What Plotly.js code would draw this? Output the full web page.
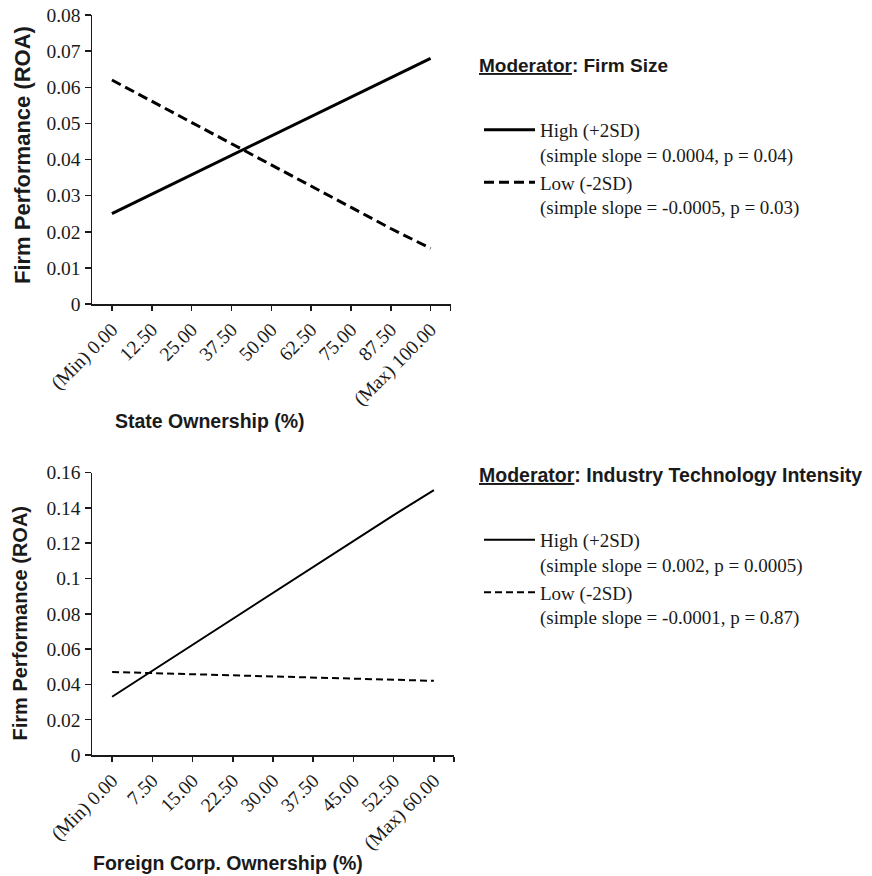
<!DOCTYPE html>
<html>
<head>
<meta charset="utf-8">
<script src="https://cdn.plot.ly/plotly-3.0.1.min.js"></script>
<style>html,body{margin:0;padding:0;background:#fff;}#chart{width:872px;height:876px;}</style>
</head>
<body>
<div id="chart"></div>
<script>
// Panel 1: State ownership, moderator firm size
const catsState = ['(Min) 0.00', '12.50', '25.00', '37.50', '50.00', '62.50', '75.00', '87.50', '(Max) 100.00'];
const stateHigh = [0.025, 0.0304, 0.0358, 0.0411, 0.0465, 0.0519, 0.0573, 0.0626, 0.068];
const stateLow = [0.062, 0.0561, 0.0503, 0.0444, 0.0385, 0.0326, 0.0268, 0.0209, 0.0154];
const stateHighName = 'High (+2SD)<br>(simple slope = 0.0004, p = 0.04)';
const stateLowName = 'Low (-2SD)<br>(simple slope = -0.0005, p = 0.03)';

// Panel 2: Foreign corp. ownership, moderator industry technology intensity
const catsForeign = ['(Min) 0.00', '7.50', '15.00', '22.50', '30.00', '37.50', '45.00', '52.50', '(Max) 60.00'];
const foreignHigh = [0.033, 0.0477, 0.0624, 0.0771, 0.0918, 0.1065, 0.1212, 0.1359, 0.150];
const foreignLow = [0.047, 0.0464, 0.0458, 0.0451, 0.0445, 0.0439, 0.0433, 0.0426, 0.042];
const foreignHighName = 'High (+2SD)<br>(simple slope = 0.002, p = 0.0005)';
const foreignLowName = 'Low (-2SD)<br>(simple slope = -0.0001, p = 0.87)';

const yTitle = 'Firm Performance (ROA)';
const xTitleState = 'State Ownership (%)';
const xTitleForeign = 'Foreign Corp. Ownership (%)';
const modState = '<b><u>Moderator</u>: Firm Size</b>';
const modForeign = '<b><u>Moderator</u>: Industry Technology Intensity</b>';

const serif = 'Liberation Serif, Times New Roman, serif';
const sans = 'Liberation Sans, Arial, sans-serif';
const ink = '#1a1a1a';

const idxS = catsState.map((_, i) => i);
const idxF = catsForeign.map((_, i) => i);

const traces = [
  {x: idxS, y: stateHigh, name: stateHighName, type: 'scatter', mode: 'lines',
   line: {color: '#000', width: 3}, xaxis: 'x', yaxis: 'y', legend: 'legend'},
  {x: idxS, y: stateLow, name: stateLowName, type: 'scatter', mode: 'lines',
   line: {color: '#000', width: 3, dash: '10px,5px'}, xaxis: 'x', yaxis: 'y', legend: 'legend'},
  {x: idxF, y: foreignHigh, name: foreignHighName, type: 'scatter', mode: 'lines',
   line: {color: '#000', width: 2}, xaxis: 'x2', yaxis: 'y2', legend: 'legend2'},
  {x: idxF, y: foreignLow, name: foreignLowName, type: 'scatter', mode: 'lines',
   line: {color: '#000', width: 2, dash: '7px,4px'}, xaxis: 'x2', yaxis: 'y2', legend: 'legend2'}
];

function xAxis(cats, domain, anchor) {
  return {
    domain: domain, anchor: anchor, type: 'linear',
    range: [-0.5, cats.length - 0.5],
    tickmode: 'array',
    tickvals: cats.map((_, i) => i).concat([cats.length - 0.5]),
    ticktext: cats.concat(['']),
    tickangle: -45, ticks: 'outside', ticklen: 5, tickwidth: 1.5, tickcolor: ink,
    showline: true, linecolor: ink, linewidth: 1.5,
    showgrid: false, zeroline: false, fixedrange: true,
    tickfont: {family: serif, size: 19.5, color: ink}
  };
}
function yAxis(range, dtick, domain, anchor) {
  return {
    domain: domain, anchor: anchor, range: range, dtick: dtick, tick0: 0,
    ticks: 'outside', ticklen: 6, tickwidth: 1.5, tickcolor: ink,
    showline: true, linecolor: ink, linewidth: 1.5,
    showgrid: false, zeroline: false, fixedrange: true,
    tickfont: {family: serif, size: 19.5, color: ink}
  };
}

const W = 872, H = 876;
const px = v => v / W, py = v => 1 - v / H;

const legendFont = {family: serif, size: 19, color: ink};

const layout = {
  width: W, height: H,
  margin: {l: 0, r: 0, t: 0, b: 0},
  paper_bgcolor: '#fff', plot_bgcolor: '#fff',
  showlegend: true,
  xaxis: xAxis(catsState, [px(92), px(450.5)], 'y'),
  yaxis: yAxis([0, 0.08], 0.01, [py(304), py(15)], 'x'),
  xaxis2: xAxis(catsForeign, [px(92), px(454)], 'y2'),
  yaxis2: yAxis([0, 0.16], 0.02, [py(755), py(472.5)], 'x2'),
  legend: {x: px(479), y: py(111), xanchor: 'left', yanchor: 'top', valign: 'top',
           itemwidth: 51, font: legendFont, bgcolor: 'rgba(0,0,0,0)', tracegroupgap: 0},
  legend2: {x: px(479), y: py(521), xanchor: 'left', yanchor: 'top', valign: 'top',
           itemwidth: 51, font: legendFont, bgcolor: 'rgba(0,0,0,0)', tracegroupgap: 0},
  annotations: [
    {text: yTitle, textangle: -90, x: px(22), y: py(155), xref: 'paper', yref: 'paper',
     showarrow: false, xanchor: 'center', yanchor: 'middle',
     font: {family: sans, size: 22, color: ink, weight: 'bold'}},
    {text: yTitle, textangle: -90, x: px(19), y: py(623.5), xref: 'paper', yref: 'paper',
     showarrow: false, xanchor: 'center', yanchor: 'middle',
     font: {family: sans, size: 20, color: ink, weight: 'bold'}},
    {text: '<b>' + xTitleState + '</b>', x: px(210), y: py(421), xref: 'paper', yref: 'paper',
     showarrow: false, xanchor: 'center', yanchor: 'middle',
     font: {family: sans, size: 19.5, color: ink}},
    {text: '<b>' + xTitleForeign + '</b>', x: px(227.5), y: py(863), xref: 'paper', yref: 'paper',
     showarrow: false, xanchor: 'center', yanchor: 'middle',
     font: {family: sans, size: 19.5, color: ink}},
    {text: modState, x: px(477), y: py(65), xref: 'paper', yref: 'paper',
     showarrow: false, xanchor: 'left', yanchor: 'middle',
     font: {family: sans, size: 19, color: ink}},
    {text: modForeign, x: px(477), y: py(475), xref: 'paper', yref: 'paper',
     showarrow: false, xanchor: 'left', yanchor: 'middle',
     font: {family: sans, size: 19.5, color: ink}}
  ]
};

Plotly.newPlot('chart', traces, layout, {staticPlot: true, displayModeBar: false});
</script>
</body>
</html>
